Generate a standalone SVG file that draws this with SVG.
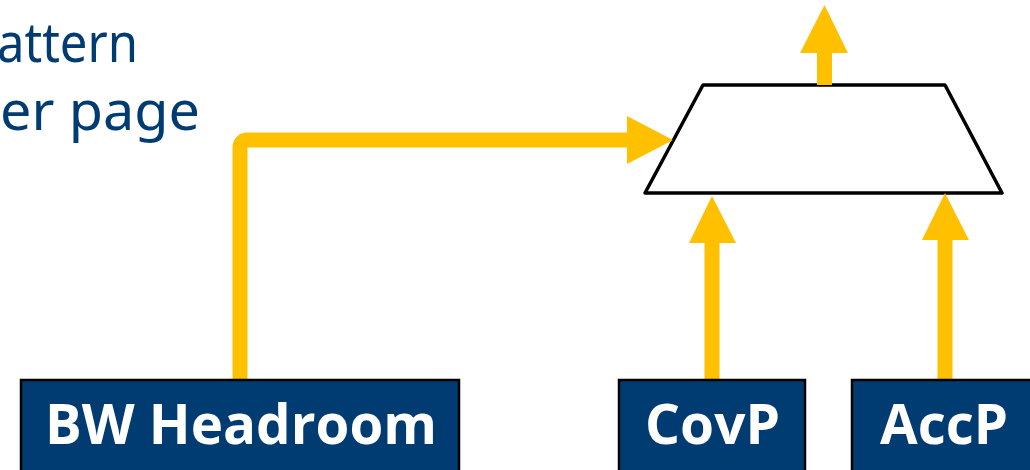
<svg xmlns="http://www.w3.org/2000/svg" width="1030" height="470" viewBox="0 0 1030 470">
<style>
.lbl{font-family:"Open Sans","Noto Sans",sans-serif;font-weight:bold;font-size:56px;fill:#ffffff}
.box{fill:#003C71;stroke:#000;stroke-width:2.5}
.title{font-family:"Noto Sans","Open Sans",sans-serif;font-size:54px;fill:#003C71}
.wire{fill:none;stroke:#FFC000;stroke-width:15}
.head{fill:#FFC000}
</style>
<rect width="1030" height="470" fill="#fff"/>
<g id="title">
<text class="title" x="-3" y="62" textLength="141" lengthAdjust="spacingAndGlyphs">attern</text>
<text class="title" x="0" y="130" textLength="200" lengthAdjust="spacingAndGlyphs">er page</text>
</g>
<g id="mux">
<polygon points="703,85 945,85 1002,193 645,193" fill="#fff" stroke="#000" stroke-width="3.5" stroke-linejoin="round"/>
</g>
<g id="connectors">
<path class="wire" d="M240,381 V148 Q240,140 248,140 H630"/>
<polygon class="head" points="627,116 673,140 627,164"/>
<path class="wire" d="M824.5,85 V50"/>
<polygon class="head" points="800,53 824.5,5 848,53"/>
<path class="wire" d="M712,381 V240"/>
<polygon class="head" points="689,243 712,196 736,243"/>
<path class="wire" d="M945,381 V237"/>
<polygon class="head" points="922,240 945,193 969,240"/>
</g>
<g id="bw">
<rect class="box" x="21" y="380" width="438" height="95"/>
<text class="lbl" x="45" y="444" textLength="392" lengthAdjust="spacingAndGlyphs">BW Headroom</text>
</g>
<g id="covp">
<rect class="box" x="619" y="380" width="186" height="95"/>
<text class="lbl" x="645" y="444" textLength="135" lengthAdjust="spacingAndGlyphs">CovP</text>
</g>
<g id="accp">
<rect class="box" x="852" y="380" width="190" height="95"/>
<text class="lbl" x="880" y="444" textLength="128" lengthAdjust="spacingAndGlyphs">AccP</text>
</g>
</svg>
